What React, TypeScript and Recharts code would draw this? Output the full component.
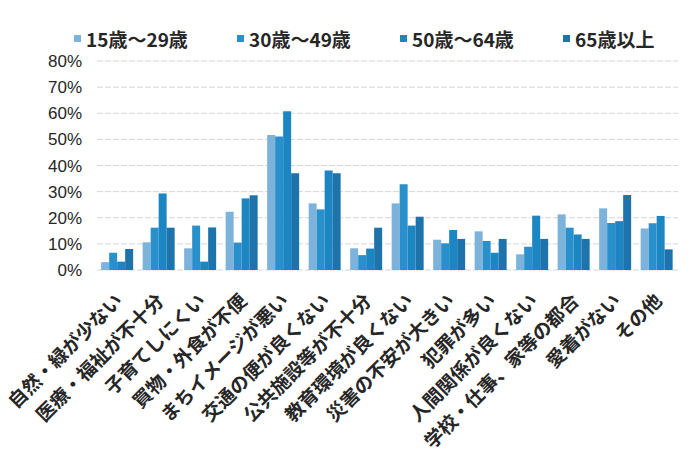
import { Bar, BarChart, CartesianGrid, XAxis, YAxis } from "recharts";

// reasons for wanting to move, share of respondents by age group (%)
const reasons = [
  "自然・緑が少ない",
  "医療・福祉が不十分",
  "子育てしにくい",
  "買物・外食が不便",
  "まちイメージが悪い",
  "交通の便が良くない",
  "公共施設等が不十分",
  "教育環境が良くない",
  "災害の不安が大きい",
  "犯罪が多い",
  "人間関係が良くない",
  "学校・仕事、家等の都合",
  "愛着がない",
  "その他",
];

const age15to29 = [3, 10.6, 8.3, 22.3, 51.7, 25.5, 8.3, 25.5, 11.6, 14.8, 6, 21.3, 23.6, 15.9];
const age30to49 = [6.6, 16.2, 17, 10.5, 51.1, 23.2, 5.7, 32.8, 10.2, 11.1, 8.9, 16.2, 18, 17.9];
const age50to64 = [3.2, 29.3, 3.2, 27.4, 60.8, 38.1, 8.2, 17, 15.3, 6.6, 20.8, 13.6, 18.7, 20.7];
const age65plus = [8, 16.2, 16.3, 28.6, 37, 37, 16.2, 20.4, 11.9, 11.9, 11.9, 11.9, 28.7, 7.9];

const yTicks = [0, 10, 20, 30, 40, 50, 60, 70, 80];

const series = [
  { key: "a", name: "15歳～29歳", color: "#7db3da" },
  { key: "b", name: "30歳～49歳", color: "#2a90cc" },
  { key: "c", name: "50歳～64歳", color: "#1b86c2" },
  { key: "d", name: "65歳以上", color: "#1e74aa" },
];

const data = reasons.map((reason, i) => ({
  reason,
  a: age15to29[i],
  b: age30to49[i],
  c: age50to64[i],
  d: age65plus[i],
}));

const fontFamily = '"Noto Sans CJK JP", "Liberation Sans", sans-serif';

function AngledTick({ x, y, payload }: any) {
  const ax = x + 6;
  const ay = y + 24;
  return (
    <text
      x={ax}
      y={ay}
      transform={`rotate(-45 ${ax} ${ay})`}
      textAnchor="end"
      fontSize={19}
      fontWeight={700}
      fill="#262626"
      fontFamily={fontFamily}
    >
      {payload.value}
    </text>
  );
}

function LegendRow() {
  return (
    <div
      style={{
        position: "absolute",
        top: 25,
        left: 74,
        display: "flex",
        fontFamily,
        zIndex: 1,
      }}
    >
      {series.map((s) => (
        <div key={s.key} style={{ display: "flex", alignItems: "center", width: 163 }}>
          <span style={{ width: 7, height: 7, background: s.color, marginRight: 5 }} />
          <span style={{ fontSize: 19, fontWeight: 700, color: "#262626" }}>{s.name}</span>
        </div>
      ))}
    </div>
  );
}

export default function App() {
  return (
    <div style={{ position: "absolute", left: 0, top: 0, width: 700, height: 450, background: "#fff" }}>
      <LegendRow />
      <BarChart
        width={700}
        height={450}
        data={data}
        margin={{ top: 61, right: 22, bottom: 10, left: 0 }}
        barCategoryGap="10%"
        barGap={0}
      >
        <CartesianGrid vertical={false} stroke="#d6d6d6" strokeDasharray="6 2" />
        <XAxis
          dataKey="reason"
          interval={0}
          height={170}
          axisLine={false}
          tickLine={false}
          tick={<AngledTick />}
        />
        <YAxis
          width={97}
          domain={[0, 80]}
          ticks={yTicks}
          interval={0}
          axisLine={false}
          tickLine={false}
          tickMargin={9}
          tickFormatter={(v) => `${v}%`}
          tick={{ fontSize: 17, fill: "#262626", fontFamily: '"Liberation Sans", sans-serif' }}
        />
        {series.map((s) => (
          <Bar key={s.key} dataKey={s.key} name={s.name} fill={s.color} isAnimationActive={false} />
        ))}
      </BarChart>
    </div>
  );
}
